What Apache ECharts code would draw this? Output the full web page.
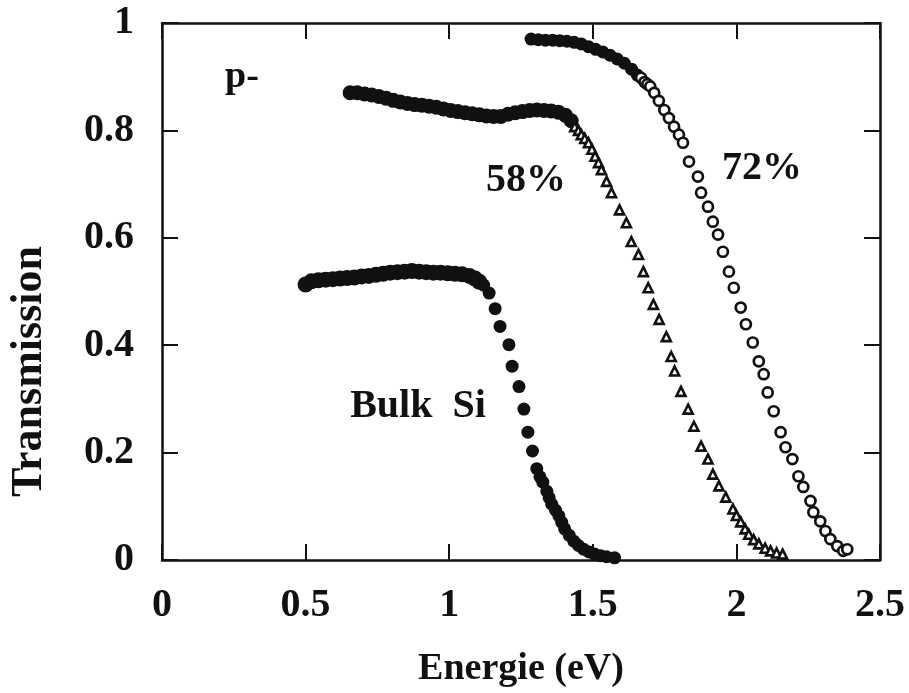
<!DOCTYPE html>
<html>
<head>
<meta charset="utf-8">
<title>Transmission</title>
<script src="https://cdn.jsdelivr.net/npm/echarts@6/dist/echarts.min.js"></script>
<style>
  html, body { margin: 0; padding: 0; background: #ffffff; }
  #chart { width: 909px; height: 693px; }
</style>
</head>
<body>
<div id="chart"></div>
<script>
// Axis ticks
const xTicks = [0, 0.5, 1, 1.5, 2, 2.5];
const yTicks = [0, 0.2, 0.4, 0.6, 0.8, 1];

// Bulk Si: flat part (dense) and absorption edge
const bulkFlatE = [0.50, 0.52, 0.545, 0.57, 0.595, 0.62, 0.645, 0.67, 0.695, 0.72, 0.745, 0.77, 0.795, 0.82, 0.845, 0.87, 0.895, 0.92, 0.945, 0.97, 0.995, 1.02, 1.045, 1.07, 1.09, 1.105];
const bulkFlatT = [0.513, 0.519, 0.521, 0.522, 0.523, 0.524, 0.525, 0.526, 0.528, 0.529, 0.531, 0.533, 0.535, 0.536, 0.537, 0.538, 0.537, 0.536, 0.535, 0.535, 0.534, 0.533, 0.532, 0.529, 0.524, 0.518];
const bulkEdgeE = [1.120, 1.139, 1.160, 1.177, 1.208, 1.219, 1.243, 1.260, 1.274, 1.290, 1.305, 1.316, 1.326, 1.340, 1.348, 1.357, 1.370, 1.382, 1.392, 1.402, 1.418, 1.434, 1.450, 1.468, 1.487, 1.506, 1.527, 1.548, 1.576];
const bulkEdgeT = [0.512, 0.497, 0.468, 0.435, 0.401, 0.361, 0.323, 0.281, 0.238, 0.203, 0.170, 0.155, 0.145, 0.128, 0.116, 0.104, 0.093, 0.082, 0.070, 0.058, 0.046, 0.035, 0.027, 0.020, 0.015, 0.011, 0.008, 0.006, 0.004];

// p- 58 %: flat part (dense) and edge (open triangles)
const p58FlatE = [0.655, 0.68, 0.705, 0.73, 0.755, 0.78, 0.805, 0.83, 0.855, 0.88, 0.905, 0.93, 0.955, 0.98, 1.005, 1.03, 1.055, 1.08, 1.105, 1.13, 1.155, 1.18, 1.205, 1.23, 1.255, 1.28, 1.305, 1.33, 1.355, 1.38, 1.405, 1.425];
const p58FlatT = [0.870, 0.870, 0.868, 0.866, 0.863, 0.860, 0.856, 0.853, 0.850, 0.848, 0.847, 0.845, 0.843, 0.840, 0.837, 0.835, 0.833, 0.831, 0.829, 0.827, 0.826, 0.826, 0.830, 0.833, 0.835, 0.837, 0.838, 0.837, 0.836, 0.834, 0.828, 0.818];
const p58EdgeE = [1.437, 1.450, 1.460, 1.472, 1.485, 1.497, 1.508, 1.520, 1.530, 1.548, 1.565, 1.593, 1.617, 1.634, 1.659, 1.676, 1.693, 1.711, 1.731, 1.756, 1.773, 1.785, 1.807, 1.832, 1.852, 1.877, 1.901, 1.918, 1.939, 1.963, 1.988, 2.000, 2.015, 2.030, 2.043, 2.060, 2.078, 2.100, 2.119, 2.140, 2.161];
const p58EdgeT = [0.807, 0.800, 0.792, 0.785, 0.777, 0.765, 0.752, 0.740, 0.727, 0.705, 0.684, 0.652, 0.628, 0.593, 0.569, 0.537, 0.507, 0.476, 0.448, 0.416, 0.379, 0.352, 0.314, 0.281, 0.249, 0.212, 0.188, 0.160, 0.138, 0.117, 0.095, 0.083, 0.071, 0.058, 0.048, 0.038, 0.030, 0.022, 0.017, 0.013, 0.011];

// p- 72 %: flat part (dense) and edge (open circles)
const p72FlatE = [1.285, 1.31, 1.335, 1.36, 1.385, 1.41, 1.435, 1.46, 1.485, 1.51, 1.535, 1.56, 1.585, 1.61, 1.635, 1.655];
const p72FlatT = [0.970, 0.969, 0.968, 0.968, 0.967, 0.966, 0.964, 0.961, 0.956, 0.951, 0.946, 0.940, 0.933, 0.925, 0.914, 0.903];
const p72EdgeE = [1.668, 1.680, 1.690, 1.700, 1.714, 1.730, 1.749, 1.765, 1.783, 1.800, 1.814, 1.835, 1.866, 1.877, 1.901, 1.918, 1.936, 1.953, 1.974, 1.991, 2.015, 2.033, 2.057, 2.078, 2.095, 2.109, 2.130, 2.154, 2.171, 2.195, 2.216, 2.233, 2.258, 2.268, 2.292, 2.310, 2.327, 2.351, 2.372, 2.386];
const p72EdgeT = [0.898, 0.890, 0.886, 0.882, 0.870, 0.855, 0.838, 0.823, 0.807, 0.792, 0.777, 0.742, 0.714, 0.684, 0.658, 0.630, 0.606, 0.574, 0.537, 0.507, 0.470, 0.439, 0.405, 0.370, 0.346, 0.312, 0.277, 0.238, 0.210, 0.188, 0.156, 0.136, 0.110, 0.089, 0.072, 0.054, 0.039, 0.026, 0.017, 0.020];

const zip = (xs, ys) => xs.map((x, i) => [x, ys[i]]);

const INK = '#111111';
const SERIF = '"Liberation Serif", "DejaVu Serif", serif';

const chart = echarts.init(document.getElementById('chart'), null, { renderer: 'canvas' });

const frameAxis = {
  type: 'value',
  axisLine: { show: true, onZero: false, lineStyle: { color: INK, width: 2.5 } },
  axisTick: { show: true, inside: true, length: 16, lineStyle: { color: INK, width: 2 } },
  splitLine: { show: false }
};

const tickLabel = {
  color: INK,
  fontFamily: SERIF,
  fontWeight: 'bold',
  fontSize: 40
};

chart.setOption({
  backgroundColor: '#ffffff',
  animation: false,
  grid: { left: 158, right: 29, top: 23, bottom: 132 },
  xAxis: [
    Object.assign({}, frameAxis, {
      position: 'bottom',
      min: xTicks[0], max: xTicks[xTicks.length - 1], interval: xTicks[1] - xTicks[0],
      axisLabel: Object.assign({}, tickLabel, { margin: 26 }),
      name: 'Energie (eV)',
      nameLocation: 'middle',
      nameGap: 90,
      nameTextStyle: { color: INK, fontFamily: SERIF, fontWeight: 'bold', fontSize: 38 }
    }),
    Object.assign({}, frameAxis, {
      position: 'top',
      min: xTicks[0], max: xTicks[xTicks.length - 1], interval: xTicks[1] - xTicks[0],
      axisLabel: { show: false }
    })
  ],
  yAxis: [
    Object.assign({}, frameAxis, {
      position: 'left',
      min: yTicks[0], max: yTicks[yTicks.length - 1], interval: yTicks[1] - yTicks[0],
      axisLabel: Object.assign({}, tickLabel, { margin: 28 }),
      name: 'Transmission',
      nameLocation: 'middle',
      nameGap: 110,
      nameTextStyle: { color: INK, fontFamily: SERIF, fontWeight: 'bold', fontSize: 44, padding: [0, 160, 0, 0] }
    }),
    Object.assign({}, frameAxis, {
      position: 'right',
      min: yTicks[0], max: yTicks[yTicks.length - 1], interval: yTicks[1] - yTicks[0],
      axisLabel: { show: false }
    })
  ],
  series: [
    {
      name: 'Bulk Si',
      type: 'scatter',
      data: zip(bulkFlatE, bulkFlatT),
      symbol: 'circle',
      symbolSize: 16,
      itemStyle: { color: INK, opacity: 1 }
    },
    {
      name: 'Bulk Si edge',
      type: 'scatter',
      data: zip(bulkEdgeE, bulkEdgeT),
      symbol: 'circle',
      symbolSize: 13,
      itemStyle: { color: INK, opacity: 1 }
    },
    {
      name: '58%',
      type: 'scatter',
      data: zip(p58FlatE, p58FlatT),
      symbol: 'circle',
      symbolSize: 15,
      itemStyle: { color: INK, opacity: 1 }
    },
    {
      name: '58% edge',
      type: 'scatter',
      data: zip(p58EdgeE, p58EdgeT),
      symbol: 'triangle',
      symbolSize: 9,
      itemStyle: { color: '#ffffff', borderColor: INK, borderWidth: 2.6, opacity: 1 }
    },
    {
      name: '72%',
      type: 'scatter',
      data: zip(p72FlatE, p72FlatT),
      symbol: 'circle',
      symbolSize: 13,
      itemStyle: { color: INK, opacity: 1 }
    },
    {
      name: '72% edge',
      type: 'scatter',
      data: zip(p72EdgeE, p72EdgeT),
      symbol: 'circle',
      symbolSize: 10,
      itemStyle: { color: '#ffffff', borderColor: INK, borderWidth: 2.7, opacity: 1 }
    }
  ],
  graphic: [
    { type: 'text', x: 242, y: 77, style: { text: 'p-', fill: INK, font: 'bold 38px ' + SERIF, textAlign: 'center', textVerticalAlign: 'middle' } },
    { type: 'text', x: 526, y: 181, style: { text: '58%', fill: INK, font: 'bold 40px ' + SERIF, textAlign: 'center', textVerticalAlign: 'middle' } },
    { type: 'text', x: 762, y: 169, style: { text: '72%', fill: INK, font: 'bold 40px ' + SERIF, textAlign: 'center', textVerticalAlign: 'middle' } },
    { type: 'text', x: 418, y: 407, style: { text: 'Bulk  Si', fill: INK, font: 'bold 40px ' + SERIF, textAlign: 'center', textVerticalAlign: 'middle' } }
  ]
});
</script>
</body>
</html>
